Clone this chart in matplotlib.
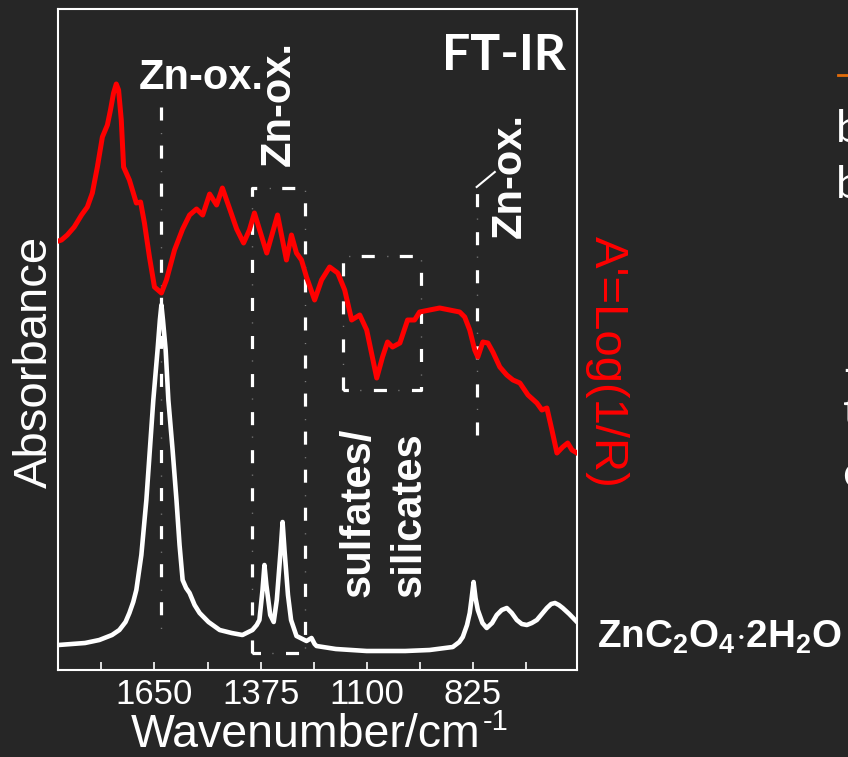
import matplotlib.pyplot as plt
import numpy as np

plt.rcParams['font.family'] = ['Liberation Sans', 'DejaVu Sans']
plt.rcParams['mathtext.fontset'] = 'custom'
plt.rcParams['mathtext.rm'] = 'Liberation Sans'
plt.rcParams['mathtext.bf'] = 'Liberation Sans:bold'
plt.rcParams['lines.scale_dashes'] = False

bg = '#262626'

# reflectance spectrum, A' = log(1/R)
wn_red = [1899, 1891, 1876, 1858, 1839, 1824, 1811, 1798, 1785, 1772, 1764, 1756,
          1749, 1743, 1736, 1730, 1715, 1697, 1686, 1676, 1663, 1650, 1632, 1619,
          1598, 1577, 1559, 1541, 1525, 1507, 1489, 1474, 1455, 1437, 1419, 1404,
          1391, 1359, 1331, 1308, 1295, 1282, 1269, 1256, 1235, 1217, 1196, 1175,
          1157, 1139, 1118, 1100, 1074, 1059, 1046, 1033, 1014, 994, 976, 963,
          937, 911, 885, 859, 846, 833, 820, 812, 799, 786, 773, 755, 737, 721,
          703, 682, 659, 646, 633, 620, 607, 592, 579, 568, 555]
a_red = [4.29, 4.30, 4.35, 4.43, 4.55, 4.63, 4.77, 5.03, 5.33, 5.45, 5.60, 5.77,
         5.86, 5.80, 5.50, 5.03, 4.90, 4.67, 4.68, 4.47, 4.13, 3.83, 3.77, 3.90,
         4.20, 4.41, 4.55, 4.61, 4.55, 4.76, 4.65, 4.82, 4.61, 4.41, 4.27, 4.40,
         4.57, 4.17, 4.55, 4.10, 4.35, 4.17, 4.10, 3.93, 3.70, 3.90, 4.03, 3.97,
         3.80, 3.50, 3.55, 3.40, 2.92, 3.13, 3.28, 3.23, 3.27, 3.50, 3.50, 3.58,
         3.60, 3.62, 3.60, 3.58, 3.53, 3.40, 3.20, 3.13, 3.28, 3.27, 3.18, 3.03,
         2.95, 2.90, 2.87, 2.75, 2.67, 2.60, 2.62, 2.40, 2.17, 2.23, 2.27, 2.20,
         2.17]

# zinc oxalate dihydrate reference
wn_ref = [1899, 1830, 1793, 1760, 1741, 1725, 1715, 1705, 1697, 1684, 1671, 1662,
          1653, 1642, 1636, 1632, 1628, 1621, 1614, 1603, 1593, 1585, 1577, 1568,
          1559, 1546, 1533, 1510, 1481, 1450, 1422, 1396, 1385, 1378, 1370, 1365,
          1360, 1350, 1341, 1333, 1323, 1318, 1313, 1304, 1296, 1282, 1256, 1243,
          1235, 1230, 1180, 1100, 1000, 937, 877, 860, 851, 840, 833, 828, 823,
          818, 812, 800, 789, 775, 763, 750, 737, 724, 711, 698, 685, 672, 659,
          646, 633, 622, 612, 602, 592, 575, 555]
a_ref = [0.25, 0.27, 0.30, 0.35, 0.40, 0.48, 0.57, 0.68, 0.80, 1.15, 1.70, 2.20,
         2.70, 3.20, 3.50, 3.65, 3.50, 3.20, 2.70, 2.20, 1.70, 1.25, 0.90, 0.82,
         0.77, 0.65, 0.57, 0.48, 0.40, 0.37, 0.35, 0.40, 0.45, 0.50, 0.80, 1.05,
         0.85, 0.55, 0.48, 0.70, 1.20, 1.48, 1.20, 0.75, 0.50, 0.34, 0.29, 0.32,
         0.26, 0.24, 0.21, 0.19, 0.19, 0.20, 0.23, 0.28, 0.33, 0.45, 0.57, 0.72,
         0.88, 0.72, 0.60, 0.47, 0.42, 0.47, 0.55, 0.60, 0.62, 0.57, 0.50, 0.46,
         0.45, 0.47, 0.50, 0.56, 0.62, 0.66, 0.67, 0.65, 0.62, 0.56, 0.48]

major_ticks = [1650, 1375, 1100, 825]
minor_ticks = [1787.5, 1512.5, 1237.5, 962.5, 687.5]

# marked bands
zn_line1 = 1632
zn_box = (1398, 1261)
sulf_box = (1162, 960)
zn_line2 = 815

W, H = 848, 757
fig = plt.figure(figsize=(W / 100, H / 100), dpi=100, facecolor=bg)
ax = fig.add_axes([58 / W, 1 - 670 / H, (577 - 58) / W, (670 - 9) / H])
ax.set_facecolor(bg)


def fx(px):
    return px / W


def fy(py):
    return 1 - py / H


def dashed(x, y):
    ax.plot(x, y, color='white', lw=2.3, linestyle=(0, (9.4, 18)),
            solid_capstyle='butt', zorder=2)
    ax.plot(x, y, color='#808080', lw=1.0, linestyle=(9, (0.8, 26.6)), zorder=2)


dashed([zn_line1, zn_line1], [5.63, 0.38])
dashed([zn_box[0], zn_box[0], zn_box[1], zn_box[1], zn_box[0]],
       [0.17, 4.82, 4.82, 0.17, 0.17])
dashed([sulf_box[0], sulf_box[0], sulf_box[1], sulf_box[1], sulf_box[0]],
       [2.80, 4.14, 4.14, 2.80, 2.80])
dashed([zn_line2, zn_line2], [2.35, 4.83])
ax.plot([zn_line2, 768], [4.83, 4.98], color='white', lw=1.5, zorder=2)

ax.plot(wn_ref, a_ref, color='white', lw=3.3, zorder=3, solid_joinstyle='round')
ax.plot(wn_red, a_red, color='#ff0000', lw=3.6, zorder=4, solid_joinstyle='round')

ax.set_xlim(1900, 555)
ax.set_ylim(0, 6.61)
ax.set_xticks(major_ticks)
ax.set_xticks(minor_ticks, minor=True)
ax.set_yticks([])
ax.tick_params(axis='x', which='both', direction='in', length=6, width=1.2,
               colors='white', labelsize=25, pad=6)
for s in ax.spines.values():
    s.set_color('white')
    s.set_linewidth(1.5)

# labels
fig.text(fx(35), fy(362), 'Absorbance', rotation=90, ha='center', va='center',
         color='white', fontsize=34)
fig.text(fx(131), fy(747), 'Wavenumber/cm', ha='left', va='baseline',
         color='white', fontsize=33.5)
fig.text(fx(483), fy(730), '-1', ha='left', va='baseline',
         color='white', fontsize=21)
fig.text(fx(607), fy(362), "A'=Log(1/R)", rotation=-90, ha='center', va='center',
         color='#ff0000', fontsize=34)

fig.text(fx(201), fy(78), 'Zn-ox.', ha='center', va='center', color='white',
         fontsize=30, fontweight='bold')
fig.text(fx(279), fy(103), 'Zn-ox.', rotation=90, ha='center', va='center',
         color='white', fontsize=30, fontweight='bold')
fig.text(fx(510), fy(175), 'Zn-ox.', rotation=90, ha='center', va='center',
         color='white', fontsize=30, fontweight='bold')
fig.text(fx(358), fy(597), 'sulfates/', rotation=90, rotation_mode='anchor',
         ha='left', va='center', color='white', fontsize=30, fontweight='bold')
fig.text(fx(410), fy(597), 'silicates', rotation=90, rotation_mode='anchor',
         ha='left', va='center', color='white', fontsize=30, fontweight='bold')
fig.text(fx(504), fy(56), 'FT-IR', ha='center', va='center', color='white',
         fontsize=36, fontweight='bold', family='Lato')
fig.text(fx(597), fy(648), r'$\mathbf{ZnC_2O_4{\cdot}2H_2O}$', ha='left',
         va='baseline', color='white', fontsize=27.8)

# neighbouring panel, cut by the edge
fig.add_artist(plt.Line2D([fx(838), fx(850)], [fy(75), fy(75)], color='#e36c09', lw=2))
for px, py, s in [(836, 130, 'b'), (836, 185, 'b'), (842, 372, '-'),
                  (843, 412, 't'), (842, 475, 'c')]:
    fig.text(fx(px), fy(py), s, ha='left', va='center', color='white',
             fontsize=32, family='Lato')

fig.savefig('out.png', dpi=100, facecolor=bg)
